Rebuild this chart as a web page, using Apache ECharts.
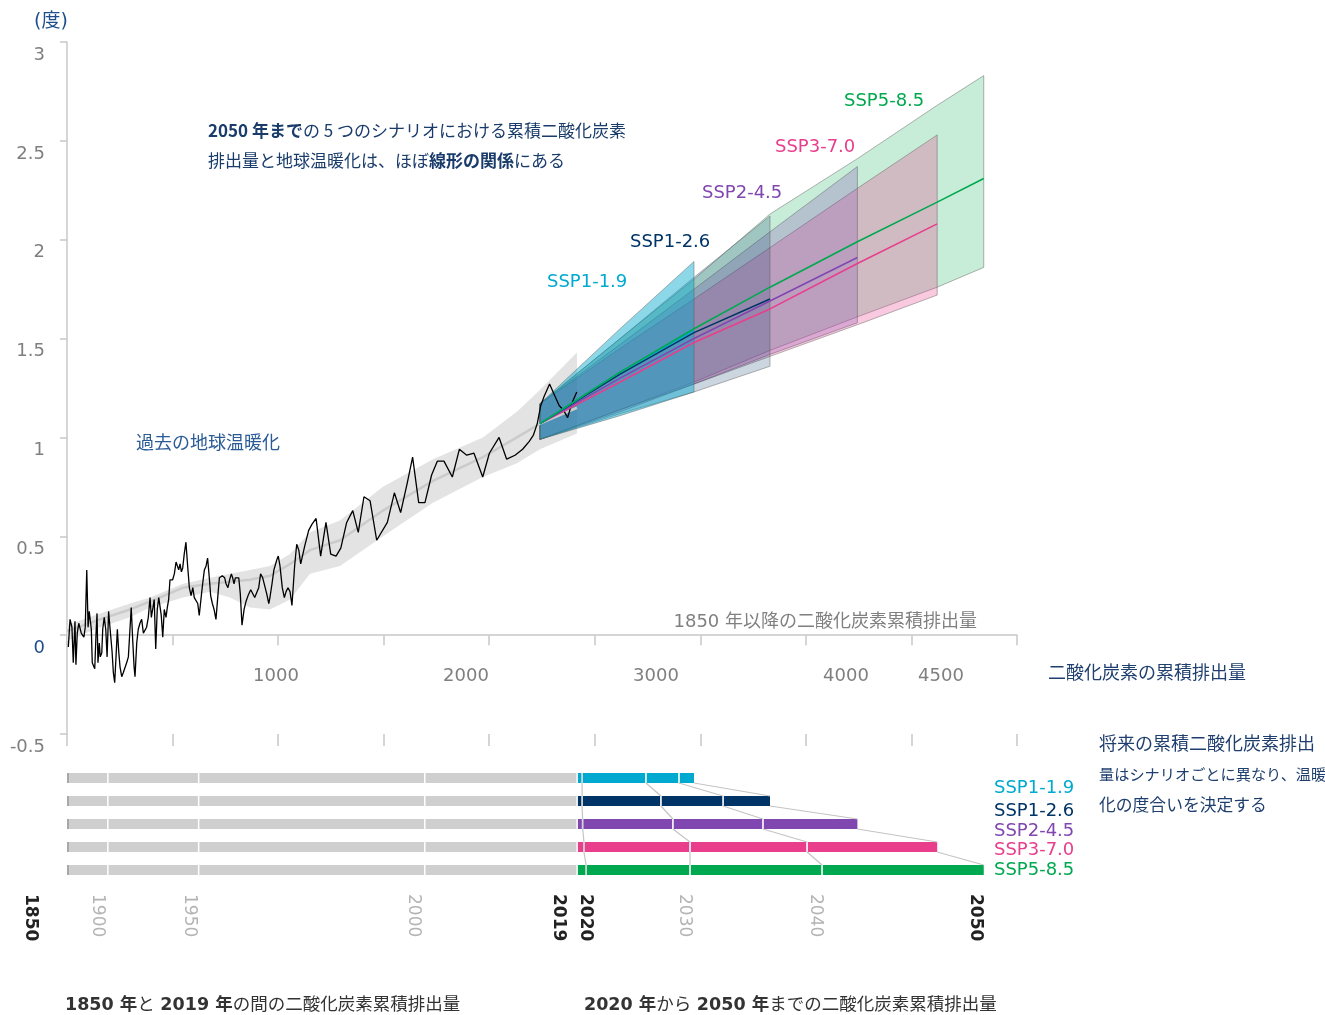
<!DOCTYPE html>
<html>
<head>
<meta charset="utf-8">
<script src="https://cdn.jsdelivr.net/npm/echarts@6/dist/echarts.min.js"></script>
<style>
html,body{margin:0;padding:0;background:#fff}
#chart{width:1325px;height:1015px}
</style>
</head>
<body>
<div id="chart"></div>
<script>
const FONT = "'DejaVu Sans','Noto Sans CJK JP',sans-serif";
const JFONT = "'Noto Sans CJK JP','DejaVu Sans',sans-serif";

// ---- Observed warming vs. cumulative CO2 since 1850 (GtCO2, °C) ----
const histCum = [-93,-84,-74,-67,-58,-53,-46,-38,-32,-25,
  -17,-11,-4,4,11,17,28,33,38,46,
  53,58,63,70,75,83,88,96,104,111,
  119,126,137,144,151,158,165,172,179,188,
  196,205,214,223,232,238,246,253,258,267,
  275,284,293,302,311,319,328,337,344,351,
  359,367,375,383,389,396,404,412,421,428,
  435,442,449,456,465,474,481,488,495,502,
  509,517,526,535,544,553,562,570,579,588,
  596,607,614,623,632,640,649,656,665,674,
  684,695,702,709,717,730,737,747,756,765,
  772,779,786,793,804,812,821,832,842,853,
  867,877,888,898,909,919,930,940,951,962,
  968,979,989,1004,1012,1021,1033,1044,1053,1063,
  1074,1084,1098,1109,1120,1130,1151,1172,1189,1211,
  1235,1263,1288,1316,1341,1372,1404,1433,1463,1495,
  1530,1586,1623,1656,1691,1719,1751,1784,1819,1849,
  1884,1928,1965,2004,2042,2088,2123,2174,2214,2258,
  2298,2333,2354,2375,2393,2412,2440,2463,2491,2512,
  2535,2556,2583];
const histTemp = [-0.06,0.08,0.04,-0.14,0.07,-0.15,0.01,0.06,0.06,0.01,
  0.02,-0.01,0.04,0.33,0.04,0.12,0.03,-0.14,-0.13,-0.17,
  0.01,0.11,-0.14,-0.04,-0.11,-0.09,0.03,0.09,0.03,-0.11,
  0.12,0.04,-0.08,-0.19,-0.24,-0.11,0.03,-0.08,-0.16,-0.21,
  -0.19,-0.20,-0.14,-0.11,0.04,0.14,-0.03,-0.16,-0.21,-0.04,
  0.03,0.06,0.08,0.01,0.02,0.04,0.09,0.19,0.09,0.08,
  0.18,-0.07,0.13,0.19,0.18,0.10,-0.01,0.13,0.09,0.14,
  0.18,0.28,0.29,0.28,0.31,0.37,0.36,0.33,0.36,0.32,
  0.34,0.41,0.47,0.35,0.24,0.20,0.24,0.19,0.19,0.16,
  0.10,0.20,0.26,0.33,0.35,0.39,0.29,0.20,0.16,0.13,
  0.08,0.21,0.29,0.30,0.30,0.29,0.26,0.24,0.28,0.31,
  0.29,0.26,0.29,0.30,0.29,0.21,0.05,0.13,0.17,0.20,
  0.23,0.24,0.19,0.18,0.24,0.31,0.29,0.28,0.21,0.16,
  0.19,0.26,0.33,0.38,0.40,0.35,0.24,0.19,0.22,0.24,
  0.22,0.15,0.35,0.46,0.43,0.36,0.45,0.53,0.56,0.59,
  0.40,0.57,0.41,0.40,0.44,0.57,0.63,0.52,0.70,0.68,
  0.48,0.57,0.72,0.62,0.77,0.90,0.67,0.67,0.81,0.88,
  0.88,0.80,0.94,0.91,0.92,0.80,0.92,1.00,0.89,0.91,
  0.94,0.98,1.01,1.07,1.16,1.21,1.27,1.22,1.16,1.14,
  1.10,1.17,1.23];

// Smoothed historical estimate and its likely range
const bandCum  = [-100,74,232,337,511,653,758,863,968,1074,1179,1337,1563,1826,2089,2268,2389,2584];
const bandHigh = [0.05,0.11,0.16,0.19,0.26,0.29,0.31,0.33,0.35,0.41,0.52,0.58,0.75,0.89,1.00,1.13,1.24,1.43];
const bandMid  = [0.02,0.08,0.13,0.17,0.24,0.26,0.27,0.28,0.30,0.36,0.43,0.48,0.63,0.78,0.90,1.00,1.07,1.15];
const bandLow  = [-0.03,0.04,0.09,0.14,0.19,0.22,0.19,0.14,0.13,0.18,0.31,0.35,0.50,0.67,0.80,0.87,0.94,1.02];

// ---- Scenario projections to 2050 ----
const scenarioNames = ['SSP1-1.9','SSP1-2.6','SSP2-4.5','SSP3-7.0','SSP5-8.5'];

const ssp119Cum  = [2389,2811,3200];
const ssp119Low  = [0.99,1.11,1.23];
const ssp119Mid  = [1.07,1.33,1.54];
const ssp119High = [1.17,1.55,1.89];

const ssp126Cum  = [2389,2811,3200,3600];
const ssp126Low  = [0.99,1.12,1.23,1.36];
const ssp126Mid  = [1.07,1.32,1.53,1.70];
const ssp126High = [1.17,1.50,1.81,2.12];

const ssp245Cum  = [2389,2811,3200,3600,4060];
const ssp245Low  = [0.99,1.14,1.27,1.42,1.58];
const ssp245Mid  = [1.07,1.30,1.50,1.69,1.91];
const ssp245High = [1.17,1.47,1.75,2.04,2.37];

const ssp370Cum  = [2389,2811,3200,3600,4060,4480];
const ssp370Low  = [0.99,1.13,1.27,1.41,1.57,1.72];
const ssp370Mid  = [1.07,1.28,1.48,1.65,1.88,2.08];
const ssp370High = [1.17,1.45,1.70,1.96,2.26,2.53];

const ssp585Cum  = [2389,2811,3200,3600,4060,4480,4725];
const ssp585Low  = [0.99,1.14,1.28,1.44,1.61,1.76,1.86];
const ssp585Mid  = [1.07,1.33,1.55,1.76,1.99,2.19,2.31];
const ssp585High = [1.17,1.50,1.80,2.13,2.41,2.68,2.83];

// Cumulative CO2 reached at 2020, 2030, 2040, 2050 in each scenario
const futureYears = ['2020','2030','2040','2050'];
const ssp119YearCum = [2611,2947,3121,3200];
const ssp126YearCum = [2611,3026,3353,3600];
const ssp245YearCum = [2614,3089,3563,4060];
const ssp370YearCum = [2621,3179,3795,4480];
const ssp585YearCum = [2632,3179,3874,4725];

// Historical cumulative CO2 at year marks
const histStartYear = '1850', histStartCum = -100;
const pastYears = ['1900','1950','2000'];
const pastYearCum = [111,589,1779];
const histEndYear = '2019', histEndCum = 2581;

// Axis ranges and tick labels
const xMin = -100, xMax = 4900;
const xLabelValues = [1000,2000,3000,4000,4500];
const yMin = -0.5, yMax = 3, yStep = 0.5;

// ---------------------------------------------------------------
const COLORS = ['#00a9cf','#003466','#8047b0','#e83e8c','#00a84f'];
const FILL_ALPHA = [0.45,0.2,0.25,0.28,0.22];
const scenarios = [
  {cum:ssp119Cum,low:ssp119Low,mid:ssp119Mid,high:ssp119High,years:ssp119YearCum},
  {cum:ssp126Cum,low:ssp126Low,mid:ssp126Mid,high:ssp126High,years:ssp126YearCum},
  {cum:ssp245Cum,low:ssp245Low,mid:ssp245Mid,high:ssp245High,years:ssp245YearCum},
  {cum:ssp370Cum,low:ssp370Low,mid:ssp370Mid,high:ssp370High,years:ssp370YearCum},
  {cum:ssp585Cum,low:ssp585Low,mid:ssp585Mid,high:ssp585High,years:ssp585YearCum}
].map((s,i)=>Object.assign(s,{name:scenarioNames[i],color:COLORS[i],alpha:FILL_ALPHA[i]}));

function rgba(hex,a){
  const n=parseInt(hex.slice(1),16);
  return `rgba(${n>>16&255},${n>>8&255},${n&255},${a})`;
}

// A filled range between low and high curves, drawn as one polygon
function rangeSeries(cum,low,high,fill,stroke){
  return {
    type:'custom', xAxisIndex:0, yAxisIndex:0, silent:true,
    data: cum.map((c,i)=>[c,low[i],high[i]]),
    encode:{x:0,y:[1,2]},
    renderItem(params,api){
      if(params.dataIndex!==0) return null;
      const top = cum.map((c,i)=>api.coord([c,high[i]]));
      const bot = cum.map((c,i)=>api.coord([c,low[i]])).reverse();
      return {type:'polygon',shape:{points:top.concat(bot)},
        style:{fill, stroke: stroke||null, lineWidth:1}};
    }
  };
}

const series = [];
// historical likely range + central estimate
series.push(rangeSeries(bandCum,bandLow,bandHigh,'#e3e3e3',null));
series.push({type:'line',xAxisIndex:0,yAxisIndex:0,silent:true,symbol:'none',
  data:bandCum.map((c,i)=>[c,bandMid[i]]),lineStyle:{color:'#cbcbcb',width:2.5}});
// observed annual warming
series.push({type:'line',xAxisIndex:0,yAxisIndex:0,silent:true,symbol:'none',
  data:histCum.map((c,i)=>[c,histTemp[i]]),lineStyle:{color:'#000',width:1.3}});
// scenario ranges, widest first
for(let i=4;i>=0;i--){
  const s=scenarios[i];
  series.push(rangeSeries(s.cum,s.low,s.high,rgba(s.color,s.alpha),'rgba(90,90,90,0.45)'));
}
// scenario central estimates
[3,2,1,0,4].forEach(i=>{
  const s=scenarios[i];
  series.push({type:'line',xAxisIndex:0,yAxisIndex:0,silent:true,symbol:'none',
    data:s.cum.map((c,k)=>[c,s.mid[k]]),lineStyle:{color:s.color,width:1.6}});
});

// ---- lower panel: cumulative emission bars ----
const BAR_H = 10;
const GRAY = '#d0cfd0';
const barData = [];
scenarios.forEach((s,r)=>{
  const bounds=[histStartCum,...pastYearCum,histEndCum];
  for(let k=0;k<bounds.length-1;k++) barData.push([r,bounds[k],bounds[k+1],-1,k]);
  barData.push([r,histEndCum,s.years[3],r,0]);
});
series.push({
  type:'custom',xAxisIndex:3,yAxisIndex:1,silent:true,data:barData,
  encode:{y:0,x:[1,2]},
  renderItem(params,api){
    const r=api.value(0),a=api.value(1),b=api.value(2),c=api.value(3),k=api.value(4);
    const p0=api.coord([a,r]),p1=api.coord([b,r]);
    const gap = (c<0 && k===0) ? 0 : 1.5;
    const rect={type:'rect',shape:{x:p0[0]+gap,y:p0[1]-BAR_H/2,width:p1[0]-p0[0]-gap,height:BAR_H},
      style:{fill:c<0?GRAY:COLORS[c]}};
    if(c<0 && k===0){
      return {type:'group',children:[rect,{type:'rect',shape:{x:p0[0],y:p0[1]-BAR_H/2,width:2,height:BAR_H},style:{fill:'#a8a8a8'}}]};
    }
    return rect;
  }
});
// light year marks inside coloured bars
const markData=[];
scenarios.forEach((s,r)=>{ for(let k=0;k<3;k++) markData.push([r,s.years[k],k]); });
series.push({
  type:'custom',xAxisIndex:3,yAxisIndex:1,silent:true,data:markData,encode:{y:0,x:1},
  renderItem(params,api){
    const p=api.coord([api.value(1),api.value(0)]);
    const fill = api.value(2)===0 ? '#d4d4d4' : 'rgba(255,255,255,0.9)';
    return {type:'rect',shape:{x:p[0]-0.9,y:p[1]-BAR_H/2,width:1.8,height:BAR_H},style:{fill}};
  }
});
// connectors linking the same year across scenarios
const linkData=[];
for(let k=0;k<4;k++) for(let r=0;r<4;r++) linkData.push([r,scenarios[r].years[k],scenarios[r+1].years[k]]);
series.push({
  type:'custom',xAxisIndex:3,yAxisIndex:1,silent:true,data:linkData,encode:{y:0,x:[1,2]},
  renderItem(params,api){
    const r=api.value(0);
    const p0=api.coord([api.value(1),r]),p1=api.coord([api.value(2),r+1]);
    return {type:'line',shape:{x1:p0[0],y1:p0[1]+BAR_H/2,x2:p1[0],y2:p1[1]-BAR_H/2},
      style:{stroke:'#c4c4c4',lineWidth:1.2}};
  }
});
// year labels under the bars
const yearNames=[histStartYear,...pastYears,histEndYear,...futureYears];
const yearCums=[histStartCum,...pastYearCum,histEndCum,...ssp585YearCum];
const BOLD_YEARS=new Set(['1850','2019','2020','2050']);
const YEAR_NUDGE={'1850':-37,'1900':-10,'1950':-8,'2000':-11,'2019':-18,'2020':-1,'2030':-6,'2040':-7,'2050':-8};
series.push({
  type:'custom',xAxisIndex:3,yAxisIndex:1,silent:true,clip:false,
  data:yearCums.map((c,i)=>[c,4,i]),encode:{x:0,y:1},
  renderItem(params,api){
    const p=api.coord([api.value(0),api.value(1)]);
    const name=yearNames[api.value(2)];
    const bold=BOLD_YEARS.has(name);
    return {type:'text',x:p[0]+YEAR_NUDGE[name],y:p[1]+24,rotation:-Math.PI/2,
      style:{text:name,fontFamily:FONT,fontSize:17,fontWeight:bold?'bold':'normal',
        fill:bold?'#222':'#b4b4b4',align:'left',verticalAlign:'middle'}};
  }
});

// ---- text ----
function txt(x,y,text,style){
  return {type:'text',x,y,silent:true,
    style:Object.assign({text,fontFamily:FONT,fontSize:18,fill:'#1f3f6e',align:'left',verticalAlign:'middle'},style||{})};
}
const richNavy={
  b:{fontFamily:JFONT,fontSize:17,fontWeight:'bold',fill:'#1a3c6b'},
  n:{fontFamily:JFONT,fontSize:17,fill:'#1a3c6b'}
};
const richDark={
  b:{fontFamily:FONT,fontSize:17.5,fontWeight:'bold',fill:'#333'},
  n:{fontFamily:FONT,fontSize:17.5,fill:'#333'}
};
const labelPos=[[547,282],[630,242],[702,193],[775,147],[844,101]];
const legendY=[788,811,831,850,870];
const graphic=[
  txt(34,22,'(度)',{fill:'#1f4e8c',fontSize:19}),
  txt(208,131,'{b|2050 年まで}{n|の 5 つのシナリオにおける累積二酸化炭素}',{rich:richNavy}),
  txt(208,161,'{n|排出量と地球温暖化は、ほぼ}{b|線形の関係}{n|にある}',{rich:richNavy}),
  txt(136,444,'過去の地球温暖化',{fill:'#2a5b96'}),
  txt(977,622,'1850 年以降の二酸化炭素累積排出量',{fill:'#808080',fontSize:18,align:'right'}),
  txt(1048,674,'二酸化炭素の累積排出量',{fill:'#1f3f6e'}),
  txt(1099,745,'将来の累積二酸化炭素排出',{fontSize:18}),
  txt(1099,776,'量はシナリオごとに異なり、温暖',{fontSize:15.2}),
  txt(1099,807,'化の度合いを決定する',{fontSize:16.8}),
  txt(65,1005,'{b|1850 年}{n|と }{b|2019 年}{n|の間の二酸化炭素累積排出量}',{rich:richDark}),
  txt(584,1005,'{b|2020 年}{n|から }{b|2050 年}{n|までの二酸化炭素累積排出量}',{rich:richDark})
];
scenarioNames.forEach((n,i)=>{
  graphic.push(txt(labelPos[i][0],labelPos[i][1],n,{fill:COLORS[i]}));
  graphic.push(txt(994,legendY[i],n,{fill:COLORS[i]}));
});

// Upper panel layout; the zero line sits inside the plot, so the emission
// axis is lifted from the grid's bottom edge to y = 0.
const GRID_TOP = 42, GRID_BOTTOM = 281, CHART_H = 1015;
const plotH = CHART_H - GRID_TOP - GRID_BOTTOM;
const zeroLift = -plotH * (0 - yMin) / (yMax - yMin);

const AXIS_GRAY='#c8c8c8';
const option={
  animation:false,
  backgroundColor:'#fff',
  textStyle:{fontFamily:FONT},
  grid:[
    {left:67,right:308,top:GRID_TOP,bottom:GRID_BOTTOM},
    {left:67,right:308,top:766.5,bottom:133.5}
  ],
  xAxis:[
    {gridIndex:0,type:'value',min:xMin,max:xMax,position:'bottom',offset:zeroLift,
      axisLine:{show:true,onZero:false,lineStyle:{color:AXIS_GRAY,width:1.5}},
      axisTick:{show:false},splitLine:{show:false},
      axisLabel:{customValues:xLabelValues,formatter:v=>String(v),color:'#7f7f7f',fontSize:18,margin:32,fontFamily:FONT}},
    {gridIndex:0,type:'value',min:0,max:9,interval:1,position:'bottom',offset:zeroLift,
      axisLine:{show:false,onZero:false},axisLabel:{show:false},splitLine:{show:false},
      axisTick:{show:true,length:10,lineStyle:{color:AXIS_GRAY,width:1.5}}},
    {gridIndex:0,type:'value',min:0,max:9,interval:1,position:'bottom',
      axisLine:{show:false,onZero:false},axisLabel:{show:false},splitLine:{show:false},
      axisTick:{show:true,length:12,lineStyle:{color:AXIS_GRAY,width:1.5}}},
    {gridIndex:1,type:'value',min:xMin,max:xMax,show:false}
  ],
  yAxis:[
    {gridIndex:0,type:'value',min:yMin,max:yMax,interval:yStep,
      axisLine:{show:true,onZero:false,lineStyle:{color:AXIS_GRAY,width:1.5}},
      axisTick:{show:true,length:7,lineStyle:{color:AXIS_GRAY,width:1.5}},
      splitLine:{show:false},
      axisLabel:{formatter:v=>String(v),color:(v)=>Number(v)===0?'#1f4e8c':'#7f7f7f',
        fontSize:18,margin:22,verticalAlign:'top',padding:[4,0,0,0],fontFamily:FONT}},
    {gridIndex:1,type:'value',min:-0.5,max:4.5,inverse:true,show:false}
  ],
  series,
  graphic
};
const chart=echarts.init(document.getElementById('chart'));
chart.setOption(option);
</script>
</body>
</html>
